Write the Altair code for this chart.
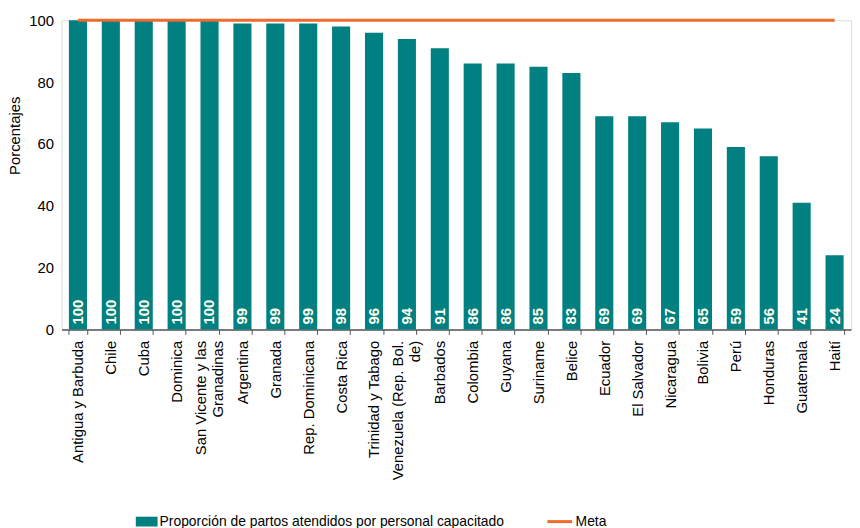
import altair as alt
import pandas as pd

paises = [
    "Antigua y Barbuda", "Chile", "Cuba", "Dominica",
    "San Vicente y las Granadinas", "Argentina", "Granada", "Rep. Dominicana",
    "Costa Rica", "Trinidad y Tabago", "Venezuela (Rep. Bol. de)", "Barbados",
    "Colombia", "Guyana", "Suriname", "Belice", "Ecuador", "El Salvador",
    "Nicaragua", "Bolivia", "Perú", "Honduras", "Guatemala", "Haití",
]
valores = [100, 100, 100, 100, 100, 99, 99, 99, 98, 96, 94, 91,
           86, 86, 85, 83, 69, 69, 67, 65, 59, 56, 41, 24]
metas = [100, 100, 100, 100, 100, 100, 100, 100, 100, 100, 100, 100,
         100, 100, 100, 100, 100, 100, 100, 100, 100, 100, 100, 100]
serie_barras = "Proporción de partos atendidos por personal capacitado"
serie_meta = "Meta"
ticks_y = [0, 20, 40, 60, 80, 100]

df = pd.DataFrame({
    "pais": paises,
    "valor": valores,
    "meta": metas,
    "serie": [serie_barras] * len(paises),
    "serie_meta": [serie_meta] * len(paises),
})

FONT = "Liberation Sans"
TEAL = "#008080"
ORANGE = "#EF6C2C"

label_expr = (
    "datum.label == 'San Vicente y las Granadinas' ? ['San Vicente y las', 'Granadinas'] : "
    "datum.label == 'Venezuela (Rep. Bol. de)' ? ['Venezuela (Rep. Bol.', 'de)'] : datum.label"
)
two_line_test = (
    "datum.value == 'San Vicente y las Granadinas' || datum.value == 'Venezuela (Rep. Bol. de)'"
)

x_enc = alt.X(
    "pais:N", sort=paises, title=None,
    scale=alt.Scale(paddingInner=0.45, paddingOuter=0.225),
    axis=alt.Axis(labelAngle=270, labelFontSize=15, labelColor="black", labelFont=FONT,
                  labelPadding=6, tickSize=5, tickBand="extent",
                  domainColor="#555555", tickColor="#555555", domainWidth=1.5,
                  labelExpr=label_expr, labelLimit=300,
                  labelOffset={"condition": {"test": two_line_test, "value": -9}, "value": 0}),
)
y_scale = alt.Scale(domain=[0, 100], nice=False)
y_axis = alt.Axis(values=ticks_y, ticks=False, domain=False, grid=False,
                  labelPadding=8, labelFontSize=15, labelColor="black", labelFont=FONT,
                  title="Porcentajes", titleFontSize=15, titleFontWeight="normal",
                  titleFont=FONT, titleColor="black", titlePadding=6, titleY=116)

bars = alt.Chart(df).mark_bar().encode(
    x=x_enc,
    y=alt.Y("valor:Q", scale=y_scale, axis=y_axis),
    color=alt.Color("serie:N", scale=alt.Scale(domain=[serie_barras], range=[TEAL]),
                    legend=alt.Legend(orient="none", legendX=75, legendY=495, title=None,
                                      symbolType="M-1,-0.45H1V0.45H-1Z", symbolSize=484,
                                      symbolStrokeWidth=0, labelFontSize=14, labelFont=FONT,
                                      labelColor="black", labelOffset=2, labelLimit=600)),
)

labels = alt.Chart(df).mark_text(
    angle=270, align="left", baseline="middle", dx=5,
    fontSize=15, fontWeight="bold", font=FONT, color="#FFFFF0",
).encode(
    x=alt.X("pais:N", sort=paises),
    y=alt.datum(0),
    text="valor:Q",
)

line = alt.Chart(df).mark_line(strokeWidth=3).encode(
    x=alt.X("pais:N", sort=paises),
    y=alt.Y("meta:Q"),
    color=alt.Color("serie_meta:N", scale=alt.Scale(domain=[serie_meta], range=[ORANGE]),
                    legend=alt.Legend(orient="none", legendX=489, legendY=492, title=None,
                                      symbolType="stroke", symbolSize=625,
                                      symbolStrokeWidth=3, labelFontSize=14, labelFont=FONT,
                                      labelColor="black", labelOffset=2, labelLimit=300)),
)

chart = alt.layer(bars, labels, line).resolve_scale(color="independent").properties(
    width=797, height=312,
    padding={"left": 54, "top": 10, "right": 1, "bottom": 198},
    autosize=alt.AutoSizeParams(type="none"),
).configure_view(stroke=None).configure(font=FONT)

chart.save("out.html", embed_options={"renderer": "svg", "actions": False})
